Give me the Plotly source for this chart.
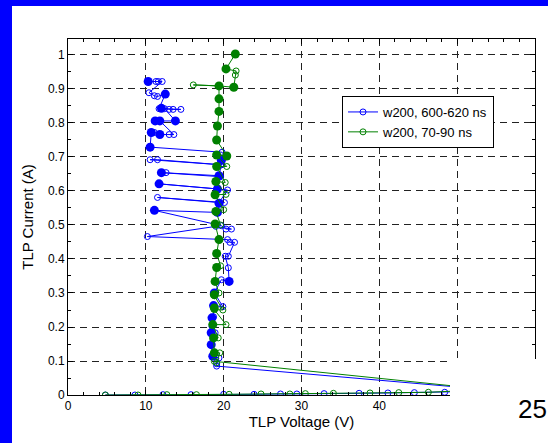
import plotly.graph_objects as go

# ---------------- data ----------------
blue_v = [4.8, 8.6, 12.2, 15.8, 20.0, 23.9, 27.3, 29.4, 32.9, 37.4, 41.1, 44.5, 48.4, 52.0, 55.8,
          19.1, 19.1, 19.4, 18.6, 18.4, 18.9, 18.4, 18.5, 18.5, 18.7, 18.7, 19.9, 18.8, 19.7, 20.7,
          20.6, 20.2, 20.6, 21.4, 20.8, 20.5, 10.2, 19.0, 21.0, 20.3, 19.7, 11.1, 19.2, 19.4, 20.1,
          11.5, 19.4, 20.5, 19.2, 11.7, 19.2, 19.6, 12.6, 12.0, 19.4, 19.7, 11.5, 10.55, 19.7, 20.2,
          19.8, 10.55, 10.7, 11.1, 11.8, 13.0, 13.6, 11.8, 11.1, 13.8, 12.4, 13.0, 13.5, 14.5, 12.0,
          11.7, 12.5, 11.5, 11.1, 10.4, 12.1, 11.6, 11.3, 10.3]
blue_i = [0.000, 0.000, 0.001, 0.001, 0.002, 0.002, 0.003, 0.003, 0.004, 0.005, 0.006, 0.007, 0.008, 0.010, 0.012,
          0.085, 0.092, 0.109, 0.114, 0.148, 0.183, 0.183, 0.202, 0.227, 0.230, 0.263, 0.260, 0.300, 0.339, 0.334,
          0.374, 0.408, 0.408, 0.449, 0.449, 0.457, 0.466, 0.496, 0.488, 0.488, 0.498, 0.543, 0.537, 0.562, 0.566,
          0.581, 0.566, 0.603, 0.606, 0.621, 0.606, 0.642, 0.654, 0.654, 0.645, 0.677, 0.692, 0.692, 0.677, 0.700,
          0.714, 0.729, 0.772, 0.772, 0.766, 0.766, 0.766, 0.806, 0.806, 0.806, 0.842, 0.840, 0.840, 0.840, 0.843,
          0.842, 0.885, 0.878, 0.880, 0.889, 0.922, 0.922, 0.922, 0.922]
blue_dense_v = [10.3, 12.5, 12.0, 11.2, 11.8, 13.8, 10.7, 11.8, 10.55, 12.0, 11.7, 11.1,
                19.7, 19.4, 19.2, 19.2, 19.4, 20.7, 18.8, 18.7, 18.5, 18.4, 18.4, 18.6]
blue_dense_i = [0.922, 0.885, 0.843, 0.806, 0.806, 0.806, 0.772, 0.766, 0.729, 0.654, 0.621, 0.543,
                0.690, 0.645, 0.606, 0.537, 0.564, 0.334, 0.300, 0.263, 0.227, 0.183, 0.148, 0.114]

green_v = [4.8, 9.0, 12.7, 16.5, 20.7, 24.8, 28.5, 30.5, 34.1, 38.8, 42.5, 46.3, 50.2, 54.0,
           18.8, 19.1, 19.5, 18.8, 18.7, 19.3, 18.6, 20.3, 18.8, 19.9, 18.8, 19.4, 18.9, 19.1, 19.6,
           19.1, 19.4, 18.9, 19.6, 19.0, 20.0, 18.9, 20.3, 19.0, 20.2, 19.1, 20.4, 19.1, 20.4, 19.1,
           19.2, 19.4, 19.4, 19.4, 16.1, 19.4, 21.3, 21.5, 21.6, 20.3, 21.5]
green_i = [0.000, 0.000, 0.001, 0.001, 0.002, 0.003, 0.003, 0.004, 0.005, 0.006, 0.007, 0.008, 0.012, 0.016,
           0.099, 0.095, 0.124, 0.124, 0.168, 0.168, 0.207, 0.207, 0.251, 0.250, 0.292, 0.300, 0.334, 0.375, 0.380,
           0.416, 0.457, 0.503, 0.500, 0.540, 0.545, 0.589, 0.590, 0.628, 0.625, 0.672, 0.672, 0.706, 0.703, 0.750,
           0.791, 0.834, 0.871, 0.909, 0.912, 0.909, 0.905, 0.941, 0.953, 0.959, 1.003]
green_dense_v = [21.5, 20.3, 21.3, 19.4, 19.4, 19.4, 19.2, 19.1, 19.1, 20.4, 19.1, 19.0, 18.9, 19.0,
                 18.9, 19.4, 19.1, 19.1, 18.9, 18.8, 18.8, 18.6, 18.7, 18.8]
green_dense_i = [1.003, 0.959, 0.905, 0.909, 0.871, 0.834, 0.791, 0.750, 0.706, 0.703, 0.672, 0.628, 0.589, 0.540,
                 0.503, 0.457, 0.416, 0.375, 0.334, 0.295, 0.256, 0.207, 0.168, 0.124]

series_names = ["w200, 600-620 ns", "w200, 70-90 ns"]
x_tick_vals = [0, 10, 20, 30, 40, 50, 60]
x_tick_text = ["0", "10", "20", "30", "40", "", ""]
x_title = "TLP Voltage (V)"
y_title = "TLP Current (A)"
page_number = "25"

# ---------------- figure ----------------
BLUE = "#0000ff"
GREEN = "#008000"
FONT = "Liberation Sans, Arial, Helvetica, sans-serif"

W, H = 548, 443
L, R, T, B = 68, 13, 39, 48
pw, ph = W - L - R, H - T - B


def px2paper_x(px):
    return (px - L) / pw


def px2paper_y(py):
    return (H - B - py) / ph


fig = go.Figure()
fig.add_trace(go.Scatter(x=blue_v, y=blue_i, mode="lines+markers", name=series_names[0],
                         line=dict(color=BLUE, width=1),
                         marker=dict(symbol="circle-open", size=6, color=BLUE, line=dict(width=1))))
fig.add_trace(go.Scatter(x=blue_dense_v, y=blue_dense_i, mode="markers", showlegend=False,
                         marker=dict(symbol="circle", size=9, color=BLUE), hoverinfo="skip"))
fig.add_trace(go.Scatter(x=green_v, y=green_i, mode="lines+markers", name=series_names[1],
                         line=dict(color=GREEN, width=1),
                         marker=dict(symbol="circle-open", size=6, color=GREEN, line=dict(width=1))))
fig.add_trace(go.Scatter(x=green_dense_v, y=green_dense_i, mode="markers", showlegend=False,
                         marker=dict(symbol="circle", size=9, color=GREEN), hoverinfo="skip"))

axis_common = dict(
    showline=True, linecolor="black", linewidth=1, mirror="ticks",
    ticks="inside", ticklen=5, tickcolor="black", tickwidth=1,
    showgrid=True, gridcolor="#222222", gridwidth=1, griddash="7px,5px",
    zeroline=False,
    tickfont=dict(family=FONT, size=12, color="black"),
    title_font=dict(family=FONT, size=15, color="black"),
)

fig.update_xaxes(range=[0, 60], tickvals=x_tick_vals, ticktext=x_tick_text, title_text=x_title,
                 title_standoff=4,
                 minor=dict(dtick=2, ticks="inside", ticklen=3, tickcolor="black", showgrid=False),
                 **axis_common)
fig.update_yaxes(range=[0, 1.047], dtick=0.1, tick0=0, title_text=y_title, title_standoff=10,
                 minor=dict(dtick=0.05, ticks="inside", ticklen=3, tickcolor="black", showgrid=False),
                 **axis_common)

shapes = [
    # blue slide frame (left and top strips)
    dict(type="rect", xref="paper", yref="paper", layer="below",
         x0=px2paper_x(-5), x1=px2paper_x(12), y0=px2paper_y(H + 5), y1=px2paper_y(-5),
         fillcolor=BLUE, line=dict(width=0)),
    dict(type="rect", xref="paper", yref="paper", layer="below",
         x0=px2paper_x(-5), x1=px2paper_x(W + 5), y0=px2paper_y(6), y1=px2paper_y(-5),
         fillcolor=BLUE, line=dict(width=0)),
    # white cover at the lower right
    dict(type="rect", xref="paper", yref="paper", layer="above",
         x0=px2paper_x(450), x1=px2paper_x(W + 5), y0=px2paper_y(H + 5), y1=px2paper_y(359),
         fillcolor="white", line=dict(width=0)),
]

fig.update_layout(
    width=W, height=H,
    margin=dict(l=L, r=R, t=T, b=B, pad=0),
    paper_bgcolor="white", plot_bgcolor="white",
    font=dict(family=FONT, size=12, color="black"),
    shapes=shapes,
    showlegend=True,
    legend=dict(x=px2paper_x(342), y=px2paper_y(96), xanchor="left", yanchor="top",
                bgcolor="white", bordercolor="black", borderwidth=1,
                font=dict(family=FONT, size=13, color="black"),
                itemwidth=30, tracegroupgap=0),
    annotations=[dict(text=page_number, xref="paper", yref="paper",
                      x=px2paper_x(516), y=px2paper_y(409), xanchor="left", yanchor="middle",
                      showarrow=False, font=dict(family=FONT, size=26, color="black"))],
)

fig.write_html("out.html")
